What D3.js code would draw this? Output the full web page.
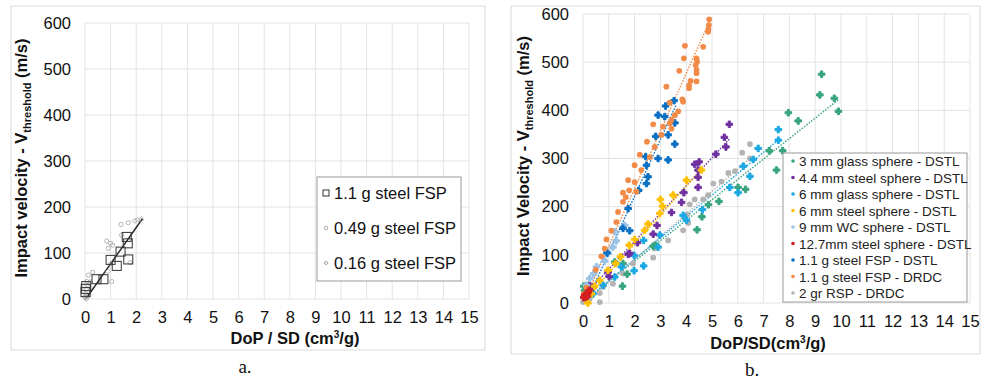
<!DOCTYPE html>
<html>
<head>
<meta charset="utf-8">
<script src="https://cdn.jsdelivr.net/npm/d3@7"></script>
<style>
  body { margin: 0; background: #fff; }
  svg { display: block; font-family: "Liberation Sans", Arial, sans-serif; }
</style>
</head>
<body>
<svg id="svg" width="981" height="381"></svg>
<script>
const xTicks = d3.range(0, 16, 1);
const yTicks = [0, 100, 200, 300, 400, 500, 600];

// ---- panel a data [DoP/SD, V]
const fsp11 = [[0.02, 15], [0.03, 22], [0.05, 28], [0.45, 43], [0.72, 43], [1.0, 85], [1.24, 72],
  [1.39, 103], [1.63, 135], [1.67, 121], [1.69, 86]];
const fsp049 = [[1.41, 162], [1.69, 166], [0.85, 126], [1.0, 121], [1.08, 117], [0.91, 110],
  [1.43, 139], [1.76, 79], [1.04, 38], [0.13, 52], [0.3, 58], [0.07, 38], [0.05, 22], [0.0, 5], [0.15, 8]];
const fsp016 = [[1.95, 170], [2.05, 172], [2.2, 173], [1.0, 77], [0.9, 60], [0.08, 30],
  [0.2, 37], [0.0, 3], [0.05, 0], [0.02, 12]];
const trendA = [[0.03, 0], [2.25, 175]];
const legendA = ["1.1 g steel FSP", "0.49 g steel FSP", "0.16 g steel FSP"];

// ---- panel b data
const glass3 = [[9.25, 475], [9.18, 432], [9.74, 425], [9.9, 398], [8.34, 378], [7.96, 395], [7.74, 316],
  [7.5, 276], [7.22, 316], [6.3, 236], [6.01, 240], [5.27, 211], [4.86, 204], [4.61, 179], [4.42, 152],
  [2.72, 118], [2.82, 120], [1.71, 60], [1.53, 35], [1.23, 85], [1.55, 82], [0.03, 35], [0.06, 26]];
const steel44 = [[5.67, 371], [5.48, 344], [5.54, 324], [5.15, 309], [4.5, 293], [4.33, 288], [4.46, 276],
  [4.46, 261], [4.46, 240], [3.91, 229], [3.82, 209], [3.43, 188], [2.87, 161], [2.72, 143], [2.11, 125],
  [1.81, 103], [1.75, 101], [1.01, 55], [0.97, 64], [0.26, 37], [0.39, 33]];
const glass6 = [[7.57, 360], [7.57, 338], [6.79, 321], [6.6, 298], [6.21, 284], [6.47, 263], [5.69, 240],
  [6.01, 229], [4.63, 194], [3.88, 182], [4.01, 172], [2.98, 141], [2.91, 116], [2.35, 130], [2.35, 77],
  [1.98, 99], [1.98, 67], [1.49, 75], [1.23, 54], [0.78, 37], [0.39, 19], [0.13, 12]];
const steel6 = [[4.59, 276], [4.01, 255], [3.49, 224], [3.0, 215], [3.08, 201], [2.98, 186], [2.52, 164],
  [2.39, 151], [2.0, 132], [1.79, 120], [1.45, 96], [1.27, 82], [0.97, 68], [0.65, 47], [0.45, 35],
  [0.19, 0], [0.32, 19]];
const wc9 = [[1.23, 148], [1.29, 129], [1.16, 116], [0.97, 103], [0.84, 87], [0.52, 75], [0.41, 61],
  [0.26, 51], [1.62, 161], [0.13, 37]];
const steel127 = [[0.06, 16], [0.13, 19], [0.19, 21], [0.1, 12], [0.03, 11], [0.23, 26], [0.17, 14]];
const fspDstl = [[3.53, 420], [3.2, 409], [2.91, 390], [3.17, 387], [3.56, 374], [3.3, 349], [2.82, 346],
  [2.43, 304], [2.46, 286], [2.52, 262], [2.46, 248], [3.56, 330], [3.3, 297], [2.91, 300], [2.16, 234],
  [1.75, 196], [1.55, 155], [1.81, 150], [0.93, 104]];
const fspDrdc = [[4.89, 589], [4.88, 577], [4.86, 568], [4.85, 563], [4.66, 532], [3.95, 534], [3.91, 508],
  [3.73, 482], [4.4, 508], [4.42, 501], [4.37, 494], [4.4, 484], [4.4, 477], [4.17, 461], [4.11, 452],
  [4.11, 446], [4.4, 460], [3.23, 449], [3.85, 423], [3.88, 418], [3.69, 398], [3.36, 416], [3.56, 390],
  [3.43, 380], [3.36, 373], [3.43, 362], [3.1, 366], [3.04, 349], [2.72, 371], [2.48, 335], [2.78, 324],
  [2.59, 303], [2.26, 276], [2.2, 308], [2.0, 286], [2.0, 251], [1.75, 255], [1.79, 234], [2.07, 231],
  [1.55, 229], [1.66, 220], [1.55, 210], [1.36, 189], [1.29, 168], [1.1, 150], [0.91, 132], [0.84, 113],
  [0.71, 97], [0.49, 69], [0.13, 32], [0.03, 19]];
const rsp2 = [[6.47, 330], [6.17, 312], [6.47, 300], [5.89, 274], [5.63, 270], [5.37, 252], [5.05, 248],
  [4.85, 224], [4.66, 215], [4.33, 215], [4.14, 205], [4.04, 184], [4.08, 166], [3.88, 151], [3.3, 130],
  [2.78, 113], [2.72, 94], [1.94, 82], [1.55, 61], [1.16, 40], [0.78, 33], [0.65, 21], [0.65, 2],
  [0.26, 9], [0.0, 2], [0.13, 6]];

const seriesNames = ["3 mm glass sphere - DSTL", "4.4 mm steel sphere - DSTL", "6 mm glass sphere - DSTL",
  "6 mm steel sphere - DSTL", "9 mm WC sphere - DSTL", "12.7mm steel sphere - DSTL",
  "1.1 g steel FSP - DSTL", "1.1 g steel FSP - DRDC", "2 gr RSP - DRDC"];
const seriesData = [glass3, steel44, glass6, steel6, wc9, steel127, fspDstl, fspDrdc, rsp2];
const seriesColors = ["#36a47c", "#7030a0", "#1ca8e3", "#ffc000", "#9dc3e6", "#d42020", "#0a6fc2", "#f28a48", "#b3b3b3"];
const seriesShape = ["cross", "cross", "cross", "cross", "cross", "cross", "cross", "circle", "circle"];
// trend line ends [x0, y0, x1, y1]
const trendsB = [[0, 2, 9.9, 422], [0.1, 18, 5.7, 342], [0.1, 6, 7.6, 340], [0.1, 8, 4.6, 278],
  [0, 25, 1.6, 165], [0, 8, 0.25, 24], [0.2, 10, 3.6, 410], [0.05, 5, 4.9, 584], [0.1, 2, 6.5, 302]];

const svg = d3.select("#svg");

function drawFrame(box, plot, yTitle, xTitle, caption) {
  svg.append("rect").attr("x", box.x).attr("y", box.y).attr("width", box.w).attr("height", box.h)
    .attr("fill", "#fff").attr("stroke", "#d9d9d9").attr("stroke-width", 1);

  const x = d3.scaleLinear([0, 15], [plot.x0, plot.x1]);
  const y = d3.scaleLinear([0, 600], [plot.y0, plot.y1]);

  const g = svg.append("g");
  g.selectAll(".vg").data(xTicks).join("line")
    .attr("x1", d => x(d)).attr("x2", d => x(d)).attr("y1", y(0)).attr("y2", y(600))
    .attr("stroke", "#e3e3e3").attr("stroke-width", 1);
  g.selectAll(".hg").data(yTicks).join("line")
    .attr("x1", x(0)).attr("x2", x(15)).attr("y1", d => y(d)).attr("y2", d => y(d))
    .attr("stroke", "#e3e3e3").attr("stroke-width", 1);

  const yAxis = svg.append("g").attr("transform", `translate(${plot.x0},0)`)
    .call(d3.axisLeft(y).tickValues(yTicks).tickSize(0).tickPadding(plot.ypad));
  yAxis.select(".domain").remove();
  yAxis.selectAll("text").attr("font-size", 16.5).attr("fill", "#111").attr("font-family", "Liberation Sans, Arial, sans-serif");

  const xAxis = svg.append("g").attr("transform", `translate(0,${plot.y0})`)
    .call(d3.axisBottom(x).tickValues(xTicks).tickSize(0).tickPadding(plot.xpad));
  xAxis.select(".domain").remove();
  xAxis.selectAll("text").attr("font-size", 16.5).attr("fill", "#111").attr("font-family", "Liberation Sans, Arial, sans-serif");

  const yt = svg.append("text")
    .attr("transform", `translate(${yTitle.x},${yTitle.y}) rotate(-90)`)
    .attr("text-anchor", "middle").attr("font-weight", "bold").attr("font-size", 16.5).attr("fill", "#111");
  yt.append("tspan").text(yTitle.text);
  yt.append("tspan").attr("font-size", 11).attr("dy", 4).text("threshold");
  yt.append("tspan").attr("dy", -4).text(" (m/s)");

  const xt = svg.append("text").attr("x", xTitle.x).attr("y", xTitle.y)
    .attr("text-anchor", "middle").attr("font-weight", "bold").attr("font-size", 16.5).attr("fill", "#111");
  xt.append("tspan").text(xTitle.text);
  xt.append("tspan").attr("font-size", 10).attr("dy", -6).text("3");
  xt.append("tspan").attr("dy", 6).text("/g)");

  svg.append("text").attr("x", caption.x).attr("y", caption.y).attr("text-anchor", "middle")
    .attr("font-family", "Liberation Serif, serif").attr("font-size", 19).attr("fill", "#111").text(caption.text);

  return { x, y };
}

// ---------- panel a
const A = drawFrame({ x: 11, y: 6, w: 474, h: 344 },
  { x0: 85, x1: 469, y0: 299, y1: 23, ypad: 14, xpad: 12 },
  { x: 27, y: 158, text: "Impact velocity - V" },
  { x: 295, y: 344, text: "DoP / SD (cm" },
  { x: 245, y: 373, text: "a." });

const lineA = d3.line().x(d => A.x(d[0])).y(d => A.y(d[1]));
svg.append("path").datum(trendA).attr("d", lineA).attr("stroke", "#222").attr("stroke-width", 1.4).attr("fill", "none");

svg.append("g").selectAll("path").data(fsp049).join("path")
  .attr("transform", d => `translate(${A.x(d[0])},${A.y(d[1])})`)
  .attr("d", d3.symbol(d3.symbolCircle, 14)).attr("fill", "none").attr("stroke", "#aaa").attr("stroke-width", 0.9);
svg.append("g").selectAll("path").data(fsp016).join("path")
  .attr("transform", d => `translate(${A.x(d[0])},${A.y(d[1])}) rotate(45)`)
  .attr("d", d3.symbol(d3.symbolSquare, 12)).attr("fill", "none").attr("stroke", "#aaa").attr("stroke-width", 0.9);
svg.append("g").selectAll("rect").data(fsp11).join("rect")
  .attr("x", d => A.x(d[0]) - 4.5).attr("y", d => A.y(d[1]) - 4.5).attr("width", 9).attr("height", 9)
  .attr("fill", "none").attr("stroke", "#333").attr("stroke-width", 1);

const legA = svg.append("g");
legA.append("rect").attr("x", 317).attr("y", 177).attr("width", 144).attr("height", 104)
  .attr("fill", "#fff").attr("stroke", "#999");
legendA.forEach((name, i) => {
  const cy = 193 + i * 35;
  if (i === 0) {
    legA.append("rect").attr("x", 323).attr("y", cy - 3).attr("width", 6).attr("height", 6)
      .attr("fill", "none").attr("stroke", "#333");
  } else if (i === 1) {
    legA.append("circle").attr("cx", 326).attr("cy", cy).attr("r", 1.8).attr("fill", "none").attr("stroke", "#aaa");
  } else {
    legA.append("path").attr("transform", `translate(326,${cy}) rotate(45)`)
      .attr("d", d3.symbol(d3.symbolSquare, 7)).attr("fill", "none").attr("stroke", "#aaa");
  }
  legA.append("text").attr("x", 334).attr("y", cy + 6).attr("font-size", 16.5).attr("fill", "#111").text(name);
});

// ---------- panel b
const B = drawFrame({ x: 511, y: 6, w: 469, h: 348 },
  { x0: 583, x1: 970, y0: 303, y1: 14, ypad: 14, xpad: 12 },
  { x: 529, y: 156, text: "Impact Velocity - V" },
  { x: 768, y: 349, text: "DoP/SD(cm" },
  { x: 752, y: 376, text: "b." });

svg.append("g").selectAll("line").data(trendsB).join("line")
  .attr("x1", d => B.x(d[0])).attr("y1", d => B.y(d[1]))
  .attr("x2", d => B.x(d[2])).attr("y2", d => B.y(d[3]))
  .attr("stroke", (d, i) => seriesColors[i]).attr("stroke-width", 1.4).attr("stroke-dasharray", "1.5,1.5");

const draw = [8, 0, 2, 1, 3, 4, 6, 7, 5];
draw.forEach(i => {
  const sym = seriesShape[i] === "cross" ? d3.symbol(d3.symbolCross, 24) : d3.symbol(d3.symbolCircle, 26);
  svg.append("g").selectAll("path").data(seriesData[i]).join("path")
    .attr("transform", d => `translate(${B.x(d[0])},${B.y(d[1])})`)
    .attr("d", sym).attr("fill", seriesColors[i])
    .attr("stroke", seriesShape[i] === "cross" ? seriesColors[i] : "none").attr("stroke-width", 1);
});

const legB = svg.append("g");
legB.append("rect").attr("x", 783).attr("y", 153).attr("width", 184).attr("height", 149)
  .attr("fill", "#fff").attr("stroke", "#999");
seriesNames.forEach((name, i) => {
  const cy = 161 + i * 16.5;
  legB.append("circle").attr("cx", 793).attr("cy", cy).attr("r", 1.8).attr("fill", seriesColors[i]);
  legB.append("text").attr("x", 799).attr("y", cy + 5).attr("font-size", 13.5).attr("fill", "#222").text(name);
});
</script>
</body>
</html>
